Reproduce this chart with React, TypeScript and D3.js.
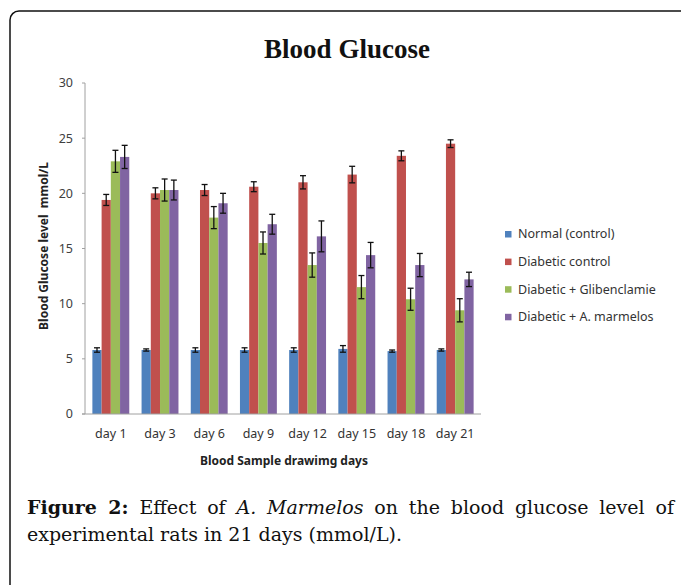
import React, { useLayoutEffect, useRef, useState } from "react";
import { scaleLinear, scaleBand } from "d3";

const days = ["day 1", "day 3", "day 6", "day 9", "day 12", "day 15", "day 18", "day 21"];
const seriesNames = ["Normal (control)", "Diabetic control", "Diabetic + Glibenclamie", "Diabetic + A. marmelos"];
const seriesColors = ["#4f81bd", "#c0504d", "#9bbb59", "#8064a2"];

const normal = [5.8, 5.8, 5.8, 5.8, 5.8, 5.9, 5.7, 5.8];
const normalErr = [0.2, 0.1, 0.2, 0.2, 0.2, 0.3, 0.1, 0.1];
const diabetic = [19.4, 20.0, 20.3, 20.6, 21.0, 21.7, 23.4, 24.5];
const diabeticErr = [0.5, 0.5, 0.5, 0.45, 0.6, 0.75, 0.45, 0.35];
const gliben = [22.9, 20.3, 17.8, 15.5, 13.5, 11.5, 10.4, 9.4];
const glibenErr = [1.0, 1.0, 1.0, 1.0, 1.1, 1.05, 1.0, 1.05];
const marmelos = [23.3, 20.3, 19.1, 17.2, 16.1, 14.4, 13.5, 12.2];
const marmelosErr = [1.05, 0.9, 0.9, 0.9, 1.4, 1.15, 1.05, 0.65];

const yTicks = [0, 5, 10, 15, 20, 25, 30];

const values = [normal, diabetic, gliben, marmelos];
const errors = [normalErr, diabeticErr, glibenErr, marmelosErr];

const chartFont = "'Noto Sans', 'Open Sans', sans-serif";
const serif = "'Liberation Serif', 'Times New Roman', serif";
const captionFont = "'DejaVu Serif', serif";

export default function App() {
  const left = 85, right = 481, top = 83, bottom = 414;

  const y = scaleLinear().domain([0, 30]).range([bottom, top]);
  const x = scaleBand().domain(days).range([left, right]).paddingInner(0.25).paddingOuter(0.15);
  const inner = scaleBand().domain(seriesNames).range([0, x.bandwidth()]);

  // justify first caption line by adjusting word spacing
  const lineRef = useRef(null);
  const [wordSpacing, setWordSpacing] = useState(0);
  useLayoutEffect(() => {
    const el = lineRef.current;
    if (!el) return;
    const natural = el.getComputedTextLength();
    const gaps = (el.textContent.match(/ /g) || []).length;
    setWordSpacing((674 - 27 - natural) / gaps);
  }, []);

  const bars = values.map((vals, s) =>
    vals.map((v, i) => {
      const bx = x(days[i]) + inner(seriesNames[s]);
      const bw = inner.bandwidth();
      const cx = bx + bw / 2;
      const e = errors[s][i];
      return (
        <g key={s + "-" + i}>
          <rect x={bx} y={y(v)} width={bw} height={y(0) - y(v)} fill={seriesColors[s]} />
          <line x1={cx} x2={cx} y1={y(v + e)} y2={y(v - e)} stroke="#111" strokeWidth={1.3} />
          <line x1={cx - 3} x2={cx + 3} y1={y(v + e)} y2={y(v + e)} stroke="#111" strokeWidth={1.3} />
          <line x1={cx - 3} x2={cx + 3} y1={y(v - e)} y2={y(v - e)} stroke="#111" strokeWidth={1.3} />
        </g>
      );
    })
  );

  return (
    <svg
      width={681}
      height={585}
      viewBox="0 0 681 585"
      style={{ position: "absolute", left: 0, top: 0, background: "white" }}
    >
      <rect x={10} y={11} width={720} height={620} rx={9} fill="white" stroke="#111" strokeWidth={1.5} />

      <text x={347} y={58} textAnchor="middle" fontFamily={serif} fontWeight="bold" fontSize={27} fill="#111">
        Blood Glucose
      </text>

      {/* y axis */}
      <line x1={left} x2={left} y1={top} y2={bottom} stroke="#a0a0a0" />
      {yTicks.map(t => (
        <g key={t}>
          <line x1={left - 3} x2={left} y1={y(t)} y2={y(t)} stroke="#a0a0a0" />
          <text x={73} y={y(t)} dy="0.35em" textAnchor="end" fontFamily={chartFont} fontSize={12.5} fill="#404040">
            {t}
          </text>
        </g>
      ))}
      <text
        transform={`translate(48,246) rotate(-90)`}
        textAnchor="middle"
        fontFamily={chartFont}
        fontWeight="bold"
        fontSize={12}
        fill="#222"
        style={{ whiteSpace: "pre" }}
      >
        {"Blood Glucose level  mmol/L"}
      </text>

      {bars}

      {/* x axis */}
      <line x1={left - 3} x2={right} y1={bottom} y2={bottom} stroke="#a0a0a0" />
      {days.map(d => (
        <text
          key={d}
          x={x(d) + x.bandwidth() / 2}
          y={438}
          textAnchor="middle"
          fontFamily={chartFont}
          fontSize={12.5}
          fill="#333"
        >
          {d}
        </text>
      ))}
      <text x={284} y={465} textAnchor="middle" fontFamily={chartFont} fontWeight="bold" fontSize={12} fill="#222">
        Blood Sample drawimg days
      </text>

      {/* legend */}
      {seriesNames.map((n, i) => (
        <g key={n} transform={`translate(505,${234 + i * 27.6})`}>
          <rect x={0} y={-3} width={6.5} height={6.5} fill={seriesColors[i]} />
          <text x={13} y={0} dy="0.35em" fontFamily={chartFont} fontSize={12.5} fill="#333">
            {n}
          </text>
        </g>
      ))}

      {/* caption */}
      <text
        ref={lineRef}
        x={27}
        y={514}
        fontFamily={captionFont}
        fontSize={19}
        fill="#111"
        style={{ wordSpacing: `${wordSpacing}px`, whiteSpace: "pre" }}
      >
        <tspan fontWeight="bold">Figure 2:</tspan>
        <tspan> Effect of </tspan>
        <tspan fontStyle="italic">A. Marmelos</tspan>
        <tspan> on the blood glucose level of</tspan>
      </text>
      <text x={27} y={541} fontFamily={captionFont} fontSize={19} fill="#111">
        experimental rats in 21 days (mmol/L).
      </text>
    </svg>
  );
}
